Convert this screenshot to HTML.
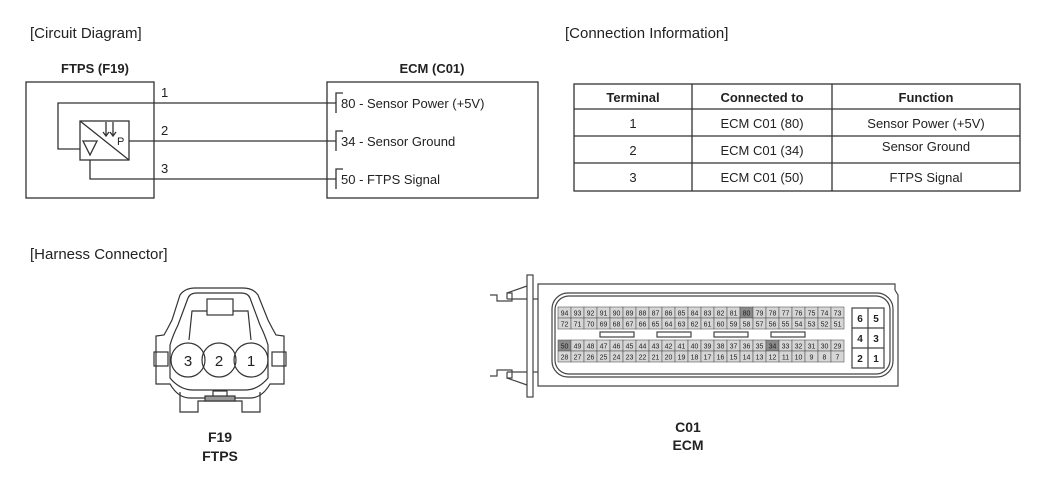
<!DOCTYPE html>
<html><head><meta charset="utf-8"><style>
body{margin:0;background:#fff}
svg{display:block}
text{font-family:"Liberation Sans",Arial,sans-serif;fill:#222}
</style></head><body>
<svg width="1050" height="493" viewBox="0 0 1050 493" xmlns="http://www.w3.org/2000/svg">
<g font-size="15">
<text x="30" y="38">[Circuit Diagram]</text>
<text x="565" y="38">[Connection Information]</text>
<text x="30" y="259">[Harness Connector]</text>
</g>
<!-- circuit -->
<g stroke="#333" stroke-width="1.3" fill="none">
<rect x="26" y="82" width="128" height="116"/>
<rect x="327" y="82" width="211" height="116"/>
<polyline points="336,103 58,103 58,149 80,149"/>
<line x1="129" y1="141" x2="336" y2="141"/>
<polyline points="90,160 90,179 336,179"/>
<rect x="80" y="121" width="49" height="39"/>
<line x1="80" y1="121" x2="129" y2="160"/>
<polygon points="83,141 97,141 90,155"/>
<line x1="106" y1="122" x2="106" y2="136"/><line x1="113" y1="122" x2="113" y2="136"/>
<polyline points="103,132 106,136 109,132"/><polyline points="110,132 113,136 116,132"/>
<polyline points="343,93 336,93 336,113"/>
<polyline points="343,131 336,131 336,151"/>
<polyline points="343,169 336,169 336,189"/>
</g>
<g font-size="13">
<text x="95" y="73" text-anchor="middle" font-weight="bold">FTPS (F19)</text>
<text x="432" y="73" text-anchor="middle" font-weight="bold">ECM (C01)</text>
<text x="161" y="97">1</text><text x="161" y="135">2</text><text x="161" y="173">3</text>
<text x="117" y="145" font-size="11">P</text>
<text x="341" y="108">80 - Sensor Power (+5V)</text>
<text x="341" y="146">34 - Sensor Ground</text>
<text x="341" y="184">50 - FTPS Signal</text>
</g>
<!-- table -->
<g stroke="#333" stroke-width="1.3" fill="none">
<rect x="574" y="84" width="446" height="107"/>
<line x1="692" y1="84" x2="692" y2="191"/><line x1="832" y1="84" x2="832" y2="191"/>
<line x1="574" y1="109" x2="1020" y2="109"/><line x1="574" y1="136" x2="1020" y2="136"/><line x1="574" y1="163" x2="1020" y2="163"/>
</g>
<g font-size="13" text-anchor="middle">
<text x="633" y="102" font-weight="bold">Terminal</text>
<text x="762" y="102" font-weight="bold">Connected to</text>
<text x="926" y="102" font-weight="bold">Function</text>
<text x="633" y="128">1</text><text x="762" y="128">ECM C01 (80)</text><text x="926" y="128">Sensor Power (+5V)</text>
<text x="633" y="155">2</text><text x="762" y="155">ECM C01 (34)</text><text x="926" y="151">Sensor Ground</text>
<text x="633" y="182">3</text><text x="762" y="182">ECM C01 (50)</text><text x="926" y="182">FTPS Signal</text>
</g>
<!-- FTPS connector -->
<g stroke="#333" stroke-width="1.2" fill="none">
<path d="M180,295 Q185,288 195,288 L243,288 Q253,288 258,295 L268,320 Q272,328 276,335 L284,336 L284,384 L270,384 Q262,398 250,398 L190,398 Q178,398 170,384 L156,384 L156,336 L164,335 Q168,328 172,320 Z"/>
<path d="M188,298 Q190,293 197,293 L241,293 Q248,293 250,298 L260,325 Q265,335 268,345 L268,378 Q258,390 245,390 L193,390 Q180,390 170,378 L170,345 Q173,335 178,325 Z"/>
<rect x="207" y="299" width="26" height="16"/>
<polyline points="189,340 192,311 207,311"/><polyline points="233,311 248,311 251,340"/>
<rect x="154" y="352" width="14" height="14"/><rect x="272" y="352" width="14" height="14"/>
<circle cx="188" cy="360" r="17"/><circle cx="219" cy="360" r="17"/><circle cx="251" cy="360" r="17"/>
<rect x="213" y="391" width="14" height="8"/>
<polyline points="180,392 180,412 198,412 198,401 242,401 242,412 260,412 260,392"/>
<rect x="205" y="396" width="30" height="5" fill="#999"/>
</g>
<g font-size="15" text-anchor="middle">
<text x="188" y="366">3</text><text x="219" y="366">2</text><text x="251" y="366">1</text>
<text x="220" y="442" font-weight="bold" font-size="14">F19</text>
<text x="220" y="461" font-weight="bold" font-size="14">FTPS</text>
<text x="688" y="432" font-weight="bold" font-size="14">C01</text>
<text x="688" y="450" font-weight="bold" font-size="14">ECM</text>
</g>
<!-- ECM connector -->
<g stroke="#444" stroke-width="1.2" fill="none">
<rect x="527" y="275" width="6" height="122"/>
<path d="M538,284 L895,284 L895,290 L898,295 L898,386 L538,386 Z"/>
<rect x="552" y="293" width="341" height="84" rx="16"/>
<rect x="555" y="296" width="335" height="78" rx="14"/>
<polyline points="490,295 497,295 497,301 512,301 512,293 507,293 507,299"/>
<line x1="507" y1="293" x2="527" y2="286"/><line x1="507" y1="299" x2="527" y2="299"/>
<polyline points="490,376 497,376 497,370 512,370 512,378 507,378 507,372"/>
<line x1="507" y1="372" x2="527" y2="372"/><line x1="507" y1="378" x2="527" y2="385"/>
<line x1="533" y1="299" x2="538" y2="299"/><line x1="533" y1="372" x2="538" y2="372"/>
<rect x="600" y="332" width="34" height="5"/><rect x="657" y="332" width="34" height="5"/><rect x="714" y="332" width="34" height="5"/><rect x="771" y="332" width="34" height="5"/>
<rect x="852" y="308" width="32" height="60"/>
<line x1="868" y1="308" x2="868" y2="368"/><line x1="852" y1="328" x2="884" y2="328"/><line x1="852" y1="348" x2="884" y2="348"/>
</g>
<g font-size="10" text-anchor="middle" font-weight="bold">
<text x="860" y="322">6</text><text x="876" y="322">5</text>
<text x="860" y="342">4</text><text x="876" y="342">3</text>
<text x="860" y="362">2</text><text x="876" y="362">1</text>
</g>
<g id="pins" font-size="7" text-anchor="middle" stroke-width="0.6">
</g>
<script>
(function(){
var g=document.getElementById('pins'),ns="http://www.w3.org/2000/svg";
var rows=[[94,307],[72,318],[50,340],[28,351]];
var dark={80:1,50:1,34:1};
rows.forEach(function(r){
 for(var i=0;i<22;i++){
  var n=r[0]-i,x=558+i*13,y=r[1];
  var rc=document.createElementNS(ns,'rect');
  rc.setAttribute('x',x);rc.setAttribute('y',y);rc.setAttribute('width',13);rc.setAttribute('height',11);
  rc.setAttribute('fill',dark[n]?'#8a8a8a':'#d6d6d6');rc.setAttribute('stroke','#555');
  g.appendChild(rc);
  var t=document.createElementNS(ns,'text');
  t.setAttribute('x',x+6.5);t.setAttribute('y',y+8.5);t.textContent=n;t.setAttribute('fill','#333');t.setAttribute('font-weight','normal');
  g.appendChild(t);
 }
});
})();
</script>
</svg>
</body></html>
